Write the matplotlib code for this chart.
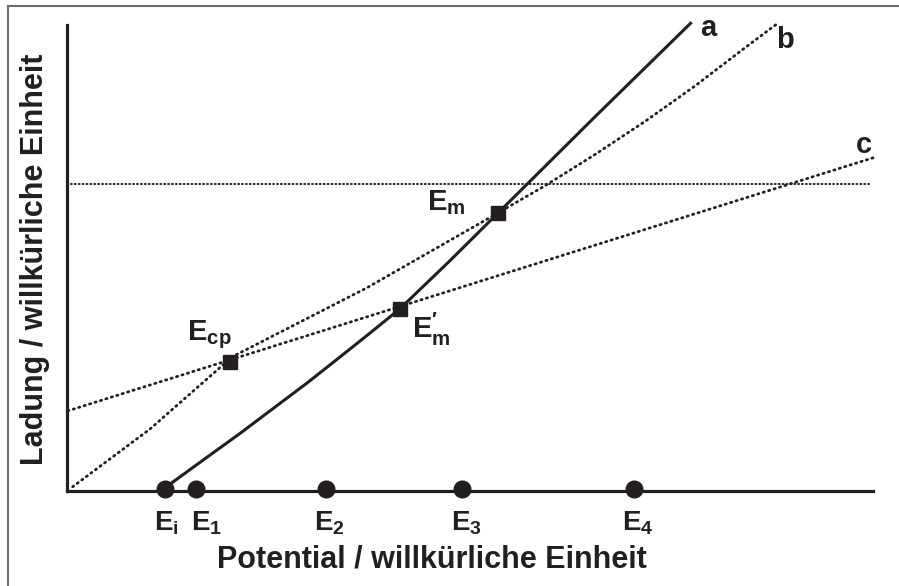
import matplotlib
matplotlib.use("Agg")
import matplotlib.pyplot as plt
from matplotlib.lines import Line2D

# schematic charge/potential curves, arbitrary units (0..100 on both axes)
pot_labels = ["i", "1", "2", "3", "4"]
pot_values = [12.2, 16.0, 32.1, 49.0, 70.3]

a_x = [12.8, 17.1, 21.5, 25.8, 29.8, 33.9, 37.6, 41.3, 47.5, 53.5, 65.5, 77.5]
a_y = [1.5, 6.9, 12.4, 18.0, 23.2, 28.8, 33.9, 39.1, 49.4, 59.7, 80.3, 100.6]

b_x = [0.7, 10.3, 20.5, 37.2, 53.5, 59.3, 65.5, 71.7, 77.9, 84.1, 88.2]
b_y = [0.9, 13.3, 28.8, 43.6, 59.7, 65.5, 72.2, 79.3, 86.9, 95.1, 100.4]

c_x = [0.1, 100.0]
c_y = [17.2, 71.5]

level_y = 65.9

cross_names = [r"$E_{cp}$", r"$E^{\prime}_{m}$", r"$E_{m}$"]
cross_x = [20.2, 41.3, 53.5]
cross_y = [27.7, 39.1, 59.7]

ink = "#231f20"

plt.rcParams["font.family"] = ["Liberation Sans", "DejaVu Sans"]
plt.rcParams["font.weight"] = "bold"
plt.rcParams["mathtext.fontset"] = "custom"
plt.rcParams["mathtext.rm"] = "Liberation Sans:bold"
plt.rcParams["mathtext.it"] = "Liberation Sans:bold"
plt.rcParams["mathtext.bf"] = "Liberation Sans:bold"
plt.rcParams["mathtext.default"] = "rm"

fig = plt.figure(figsize=(8.99, 5.86), dpi=100)
ax = fig.add_axes([0.0745, 0.1621, 0.8966, 0.7952])
ax.set_xlim(0, 100)
ax.set_ylim(0, 100)
for side in ["top", "right"]:
    ax.spines[side].set_visible(False)
for side in ["left", "bottom"]:
    ax.spines[side].set_linewidth(2.3)
    ax.spines[side].set_color(ink)
ax.set_xticks([])
ax.set_yticks([])

dotted = (0, (0.45, 1.6))
ax.plot(a_x, a_y, color=ink, lw=2.2, solid_capstyle="butt", solid_joinstyle="round",
        clip_on=False)
ax.plot(b_x, b_y, color=ink, lw=2.0, linestyle=dotted, dash_capstyle="round", clip_on=False)
ax.plot(c_x, c_y, color=ink, lw=2.0, linestyle=dotted, dash_capstyle="round", clip_on=False)
ax.plot([0, 99.7], [level_y, level_y], color=ink, lw=1.4, linestyle=(0, (0.5, 1.5)),
        dash_capstyle="round")

# crossing points
ax.plot(cross_x, cross_y, "s", color=ink, ms=10, zorder=5)
ax.text(14.9, 32.4, cross_names[0], fontsize=21, color=ink, ha="left", va="baseline")
ax.text(42.8, 32.8, cross_names[1], fontsize=21, color=ink, ha="left", va="baseline")
ax.text(44.7, 60.3, cross_names[2], fontsize=21, color=ink, ha="left", va="baseline")

# curve names
ax.text(79.5, 99.4, "a", fontsize=21, color=ink, ha="center", va="center")
ax.text(89.1, 96.8, "b", fontsize=21, color=ink, ha="center", va="center")
ax.text(98.9, 74.2, "c", fontsize=21, color=ink, ha="center", va="center")

# potentials on the x axis
ax.plot(pot_values, [0.5] * len(pot_values), "o", color=ink, ms=12, clip_on=False, zorder=6)
for name, xv in zip(pot_labels, pot_values):
    dx = -0.6 if name == "1" else -1.4
    ax.text(xv + dx, -8.4, r"$E_{%s}$" % name, fontsize=20, color=ink,
            ha="left", va="baseline", clip_on=False)

fig.text(432 / 899, 1 - 560 / 586, "Potential / willkürliche Einheit", fontsize=22,
         color=ink, ha="center", va="center")
fig.text(35 / 899, 1 - 259 / 586, "Ladung / willkürliche Einheit", fontsize=22,
         color=ink, ha="center", va="center", rotation=90)

# outer frame edges
fig.add_artist(Line2D([8 / 899, 1], [1 - 6 / 586, 1 - 6 / 586], transform=fig.transFigure,
                      color="#6d6d6d", lw=1.5))
fig.add_artist(Line2D([8 / 899, 8 / 899], [0, 1 - 6 / 586], transform=fig.transFigure,
                      color="#6d6d6d", lw=1.5))

fig.savefig("out.png", dpi=100, facecolor="white")
